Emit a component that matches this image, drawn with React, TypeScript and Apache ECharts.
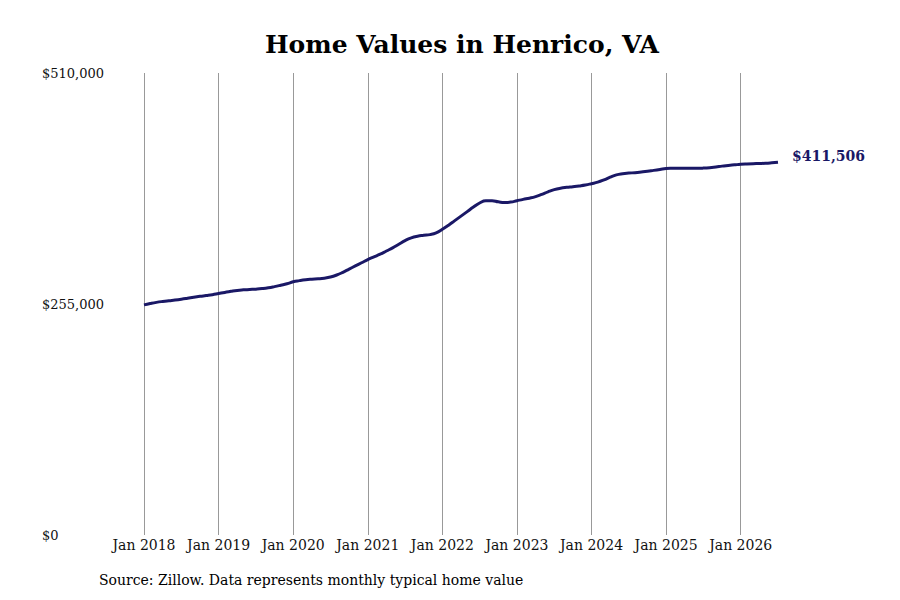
import { useEffect, useRef } from 'react';
import * as echarts from 'echarts';

const years = [2018, 2019, 2020, 2021, 2022, 2023, 2024, 2025, 2026];
const monthNames = ['Jan', 'Feb', 'Mar', 'Apr', 'May', 'Jun', 'Jul', 'Aug', 'Sep', 'Oct', 'Nov', 'Dec'];
const lastMonthIndex = 6; // data ends Jul 2026

const yTicks = [0, 255000, 510000];

// monthly typical home value, Jan 2018 .. Jul 2026
const homeValues = [
  // 2018
  254000, 255500, 256800, 257800, 258600, 259300, 260200, 261300, 262500, 263500, 264300, 265200,
  // 2019
  266500, 267800, 269000, 270000, 270600, 271000, 271400, 272000, 272900, 274200, 275700, 277300,
  // 2020
  279500, 280800, 281800, 282400, 282800, 283500, 284800, 287000, 290000, 293500, 297000, 300500,
  // 2021
  304000, 307000, 310000, 313500, 317000, 321000, 325000, 328000, 329800, 330800, 331600, 333500,
  // 2022
  337500, 342000, 347000, 352000, 357000, 362000, 366500, 369000, 369000, 367800, 367000, 367500,
  // 2023
  369000, 370500, 371800, 373500, 376000, 378800, 381200, 382800, 383800, 384500, 385300, 386300,
  // 2024
  387800, 389500, 392000, 395000, 397500, 398800, 399500, 400000, 400700, 401500, 402500, 403500,
  // 2025
  404500, 404800, 404900, 404900, 404800, 404800, 405000, 405500, 406300, 407200, 408000, 408600,
  // 2026
  409200, 409600, 409900, 410100, 410400, 410900, 411506,
];

const categories: string[] = [];
years.forEach((y) => {
  monthNames.forEach((m, i) => {
    if (y === 2026 && i > lastMonthIndex) return;
    categories.push(`${m} ${y}`);
  });
});

const lineColor = '#1a1866';
const font = 'DejaVu Serif';

const money = (v: number) => '$' + v.toLocaleString('en-US');

function App() {
  const chartRef = useRef<HTMLDivElement>(null);

  useEffect(() => {
    document.body.style.margin = '0';
    const myChart = echarts.init(chartRef.current, null, { renderer: 'svg' });

    const option = {
      animation: false,
      backgroundColor: '#ffffff',
      title: {
        text: 'Home Values in Henrico, VA',
        left: 260,
        top: 27,
        textStyle: {
          fontFamily: font,
          fontSize: 25,
          fontWeight: 'bold',
          color: '#000000',
        },
      },
      grid: {
        left: 144,
        right: 122,
        top: 73,
        bottom: 65,
      },
      xAxis: {
        type: 'category',
        data: categories,
        boundaryGap: false,
        axisLine: { show: false },
        axisTick: { show: false },
        axisLabel: {
          interval: (index: number) => index % 12 === 0,
          margin: 3,
          fontFamily: font,
          fontSize: 14,
          color: '#111111',
        },
        splitLine: {
          show: true,
          interval: (index: number) => index % 12 === 0,
          lineStyle: { color: '#999999', width: 1 },
        },
      },
      yAxis: {
        type: 'value',
        min: yTicks[0],
        max: yTicks[yTicks.length - 1],
        interval: yTicks[1] - yTicks[0],
        axisLine: { show: false },
        axisTick: { show: false },
        splitLine: { show: false },
        axisLabel: {
          align: 'left',
          margin: 102,
          fontFamily: font,
          fontSize: 13,
          color: '#111111',
          formatter: (v: number) => money(v),
        },
      },
      series: [
        {
          name: 'Home value',
          type: 'line',
          data: homeValues,
          smooth: true,
          showSymbol: false,
          lineStyle: { color: lineColor, width: 3 },
          itemStyle: { color: lineColor },
          endLabel: {
            show: true,
            formatter: () => money(homeValues[homeValues.length - 1]),
            distance: 14,
            offset: [0, -6],
            fontFamily: font,
            fontSize: 14,
            fontWeight: 'bold',
            color: lineColor,
          },
        },
      ],
      graphic: [
        {
          type: 'text',
          left: 99,
          top: 573,
          style: {
            text: 'Source: Zillow. Data represents monthly typical home value',
            fontFamily: font,
            fontSize: 14,
            fill: '#000000',
          },
        },
      ],
    };

    myChart.setOption(option);

    return () => {
      myChart.dispose();
    };
  }, []);

  return <div ref={chartRef} style={{ width: '900px', height: '600px' }}></div>;
}

export default App;
